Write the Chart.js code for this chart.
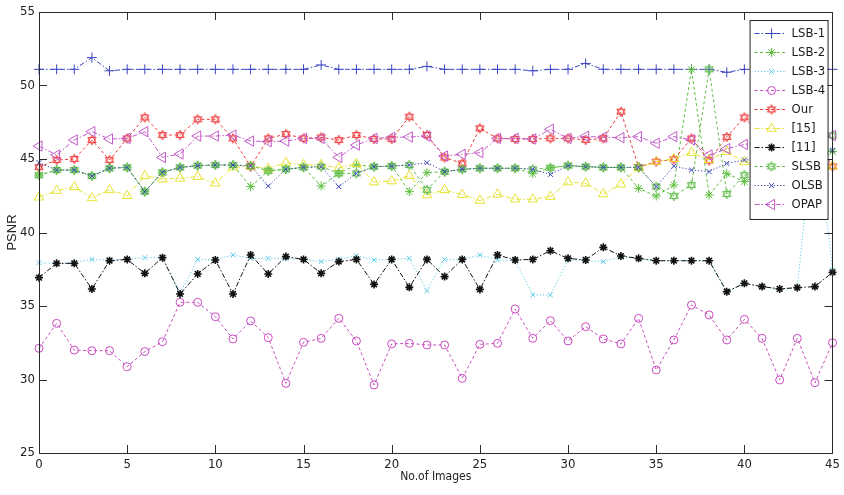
<!DOCTYPE html>
<html>
<head>
<meta charset="utf-8">
<script src="https://cdn.jsdelivr.net/npm/chart.js@4.4.1/dist/chart.umd.min.js"></script>
<style>
  html, body { margin: 0; padding: 0; background: #fff; }
</style>
</head>
<body>
<canvas id="chart" width="844" height="495"></canvas>
<script>
'use strict';

// x categories: image number
const images = [0, 1, 2, 3, 4, 5, 6, 7, 8, 9, 10, 11, 12, 13, 14, 15, 16, 17, 18, 19, 20, 21, 22,
    23, 24, 25, 26, 27, 28, 29, 30, 31, 32, 33, 34, 35, 36, 37, 38, 39, 40, 41, 42, 43, 44, 45];

const xTicks = [0, 5, 10, 15, 20, 25, 30, 35, 40, 45];
const yTicks = [25, 30, 35, 40, 45, 50, 55];

// PSNR per image
const lsb1 = [51.1, 51.1, 51.1, 51.9, 51.0, 51.1, 51.1, 51.1, 51.1, 51.1,
    51.1, 51.1, 51.1, 51.1, 51.1, 51.1, 51.4, 51.1, 51.1, 51.1,
    51.1, 51.1, 51.3, 51.1, 51.1, 51.1, 51.1, 51.1, 51.0, 51.1,
    51.1, 51.5, 51.1, 51.1, 51.1, 51.1, 51.1, 51.1, 51.1, 50.9,
    51.1, 51.1, 51.1, 51.1, 51.1, 51.1];
const lsb2 = [43.9, 44.25, 44.25, 43.84, 44.37, 44.43, 42.78, 44.09, 44.43, 44.55,
    44.59, 44.59, 43.12, 44.2, 44.3, 44.43, 43.16, 44.02, 44.6, 44.48,
    44.52, 42.78, 44.07, 44.14, 44.3, 44.37, 44.37, 44.37, 44.0, 44.4,
    44.55, 44.48, 44.43, 44.43, 43.0, 42.48, 43.23, 51.1, 42.55, 44.0,
    43.46, 44.0, 44.3, 44.8, 45.2, 45.5];
const lsb3 = [37.95, 37.9, 37.95, 38.17, 38.13, 38.17, 38.29, 38.29, 35.9, 38.17,
    38.17, 38.47, 38.24, 38.24, 38.24, 38.17, 38.02, 38.17, 38.42, 38.13,
    38.17, 38.24, 36.04, 38.17, 38.17, 38.47, 38.13, 38.08, 35.75, 35.75,
    38.17, 38.08, 38.02, 38.35, 38.24, 38.08, 38.08, 38.08, 38.08, 35.97,
    36.54, 36.32, 36.16, 36.25, 48.0, 37.45];
const lsb4 = [32.12, 33.82, 32.0, 31.96, 31.96, 30.87, 31.9, 32.57, 35.25, 35.25,
    34.27, 32.76, 33.98, 32.85, 29.74, 32.53, 32.8, 34.16, 32.62, 29.63,
    32.42, 32.46, 32.35, 32.35, 30.08, 32.39, 32.46, 34.8, 32.8, 34.0,
    32.62, 33.59, 32.76, 32.42, 34.16, 30.65, 32.69, 35.07, 34.39, 32.69,
    34.09, 32.8, 29.97, 32.8, 29.78, 32.5];
const our = [44.44, 44.93, 45.0, 46.29, 44.93, 46.4, 47.83, 46.63, 46.63, 47.7,
    47.7, 46.4, 44.48, 46.4, 46.7, 46.4, 46.47, 46.29, 46.63, 46.36,
    46.36, 47.88, 46.63, 45.1, 44.7, 47.09, 46.4, 46.36, 46.36, 46.4,
    46.4, 46.3, 46.4, 48.22, 44.45, 44.82, 44.98, 46.4, 44.9, 46.5,
    47.83, 46.5, 46.4, 46.6, 46.4, 44.5];
const ref15 = [42.4, 42.85, 43.1, 42.35, 42.9, 42.5, 43.85, 43.63, 43.69, 43.8,
    43.35, 44.45, 44.5, 44.35, 44.75, 44.6, 44.6, 44.4, 44.68, 43.43,
    43.5, 43.87, 42.55, 42.9, 42.58, 42.17, 42.6, 42.26, 42.26, 42.44,
    43.43, 43.35, 42.62, 43.28, 44.4, 44.82, 45.02, 45.43, 44.95, 45.5,
    44.8, 44.6, 44.8, 44.5, 44.7, 44.5];
const ref11 = [36.93, 37.9, 37.9, 36.16, 38.08, 38.17, 37.22, 38.29, 35.82, 37.18,
    38.13, 35.82, 38.47, 37.18, 38.36, 38.17, 37.22, 38.02, 38.17, 36.47,
    38.17, 36.27, 38.17, 37.0, 38.17, 36.13, 38.47, 38.13, 38.17, 38.76,
    38.24, 38.13, 38.99, 38.4, 38.24, 38.08, 38.08, 38.08, 38.08, 35.97,
    36.54, 36.32, 36.16, 36.25, 36.32, 37.29];
const slsb = [43.9, 44.25, 44.25, 43.84, 44.37, 44.43, 42.78, 44.09, 44.43, 44.55,
    44.59, 44.59, 44.53, 44.2, 44.3, 44.43, 44.48, 44.02, 44.02, 44.48,
    44.52, 44.59, 42.9, 44.14, 44.3, 44.37, 44.37, 44.37, 44.3, 44.4,
    44.55, 44.48, 44.43, 44.43, 44.43, 43.12, 42.48, 43.23, 51.1, 42.62,
    43.9, 44.0, 44.5, 45.0, 45.8, 46.6];
const olsb = [44.75, 44.25, 44.25, 43.84, 44.37, 44.43, 42.78, 44.09, 44.43, 44.55,
    44.59, 44.59, 44.53, 43.16, 44.3, 44.43, 44.48, 43.12, 44.02, 44.48,
    44.52, 44.59, 44.75, 44.14, 44.3, 44.37, 44.37, 44.37, 44.3, 43.95,
    44.55, 44.48, 44.43, 44.43, 44.43, 43.12, 44.52, 44.25, 44.14, 44.7,
    44.93, 45.0, 45.2, 45.3, 45.5, 45.6];
const opap = [45.88, 45.27, 46.29, 46.86, 46.36, 46.4, 46.86, 45.11, 45.34, 46.56,
    46.56, 46.63, 46.22, 46.18, 46.22, 46.4, 46.4, 45.11, 45.95, 46.4,
    46.47, 46.5, 46.56, 45.2, 45.32, 45.43, 46.4, 46.4, 46.36, 47.02,
    46.4, 46.55, 46.47, 46.45, 46.52, 46.07, 46.52, 46.3, 45.27, 45.7,
    45.99, 46.2, 46.4, 46.3, 46.5, 46.6];

const FONT = "'Liberation Sans Narrow', 'DejaVu Sans Condensed', 'Liberation Sans', sans-serif";

// hollow six-point star marker, like matlab 'h'
function hexagram(color) {
    const c = document.createElement('canvas');
    c.width = c.height = 12;
    const g = c.getContext('2d');
    g.strokeStyle = color;
    g.lineWidth = 1;
    [-Math.PI / 2, Math.PI / 2].forEach(off => {
        g.beginPath();
        for (let k = 0; k < 3; k++) {
            const t = off + k * 2 * Math.PI / 3;
            const px = 6 + 4.8 * Math.cos(t), py = 6 + 4.8 * Math.sin(t);
            if (k) g.lineTo(px, py); else g.moveTo(px, py);
        }
        g.closePath();
        g.stroke();
    });
    return c;
}

const DASH = [3, 2.5], DOT = [1.2, 2], DASHDOT = [5, 2, 1.5, 2];

const series = [
    { label: 'LSB-1', data: lsb1, color: '#3b47c2', marker: 'cross', dash: DASHDOT, r: 5 },
    { label: 'LSB-2', data: lsb2, color: '#5cbf3c', marker: 'star', dash: DASH, r: 4.5 },
    { label: 'LSB-3', data: lsb3, color: '#5fcbe6', marker: 'crossRot', dash: DOT, r: 3.5 },
    { label: 'LSB-4', data: lsb4, color: '#c94bc0', marker: 'circle', dash: DASH, r: 4 },
    { label: 'Our', data: our, color: '#ef3b3b', marker: hexagram('#ef3b3b'), dash: DASH, r: 5 },
    { label: '[15]', data: ref15, color: '#e6e233', marker: 'triangle', dash: DASHDOT, r: 5.5 },
    { label: '[11]', data: ref11, color: '#111111', marker: 'star', dash: DASHDOT, r: 4 },
    { label: 'SLSB', data: slsb, color: '#62bd4c', marker: hexagram('#62bd4c'), dash: DASH, r: 5 },
    { label: 'OLSB', data: olsb, color: '#3a44b8', marker: 'crossRot', dash: DOT, r: 3.5 },
    { label: 'OPAP', data: opap, color: '#c25bc8', marker: 'triangle', rot: -90, dash: DASHDOT, r: 6 }
];

const datasets = series.map((s, k) => ({
    label: s.label,
    data: images.map((img, i) => ({ x: img, y: s.data[i] })),
    borderColor: s.color,
    borderWidth: 1,
    borderDash: s.dash,
    pointStyle: s.marker,
    pointRotation: s.rot || 0,
    pointRadius: s.r,
    pointBorderColor: s.color,
    pointBorderWidth: s.label === '[11]' ? 1.6 : 1,
    pointBackgroundColor: 'rgba(0,0,0,0)',
    fill: false,
    tension: 0,
    clip: false,
    order: series.length - k
}));

// matlab style box, inward ticks and the legend inside the axes
const axesBox = {
    id: 'axesBox',
    afterDatasetsDraw(chart) {
        const { ctx, chartArea: a, scales: { x, y } } = chart;
        ctx.save();
        ctx.strokeStyle = '#2a2a2a';
        ctx.lineWidth = 1;
        ctx.setLineDash([]);
        ctx.strokeRect(Math.round(a.left) + 0.5, Math.round(a.top) + 0.5,
            Math.round(a.right - a.left) - 1, Math.round(a.bottom - a.top));
        ctx.beginPath();
        xTicks.slice(1, -1).forEach(v => {
            const px = Math.round(x.getPixelForValue(v)) + 0.5;
            ctx.moveTo(px, a.bottom); ctx.lineTo(px, a.bottom - 8);
            ctx.moveTo(px, a.top); ctx.lineTo(px, a.top + 8);
        });
        yTicks.slice(1, -1).forEach(v => {
            const py = Math.round(y.getPixelForValue(v)) + 0.5;
            ctx.moveTo(a.left, py); ctx.lineTo(a.left + 8, py);
            ctx.moveTo(a.right, py); ctx.lineTo(a.right - 8, py);
        });
        ctx.stroke();

        // legend
        const bx = a.right - 83, by = a.top + 8, bw = 78, bh = 199;
        ctx.fillStyle = '#fff';
        ctx.fillRect(bx, by, bw, bh);
        ctx.strokeStyle = '#222';
        ctx.strokeRect(bx + 0.5, by + 0.5, bw, bh);
        ctx.font = "13px " + FONT;
        ctx.textBaseline = 'middle';
        chart.data.datasets.forEach((ds, k) => {
            const ly = Math.round(by + 13.3 + k * 18.97) + 0.5;
            ctx.strokeStyle = ds.borderColor;
            ctx.lineWidth = 1;
            ctx.setLineDash(ds.borderDash);
            ctx.beginPath();
            ctx.moveTo(bx + 5, ly);
            ctx.lineTo(bx + 36, ly);
            ctx.stroke();
            ctx.setLineDash([]);
            ctx.fillStyle = 'rgba(0,0,0,0)';
            ctx.lineWidth = ds.pointBorderWidth;
            Chart.helpers.drawPoint(ctx, {
                pointStyle: ds.pointStyle,
                rotation: ds.pointRotation,
                radius: ds.pointRadius,
                borderWidth: ds.pointBorderWidth
            }, bx + 22, ly);
            ctx.fillStyle = '#1a1a1a';
            ctx.fillText(ds.label, bx + 42, ly + 0.5);
        });
        ctx.restore();
    }
};

new Chart(document.getElementById('chart'), {
    type: 'line',
    data: { datasets },
    plugins: [axesBox],
    options: {
        responsive: false,
        animation: false,
        devicePixelRatio: 1,
        layout: { padding: { top: 12, right: 6, left: 0, bottom: 0 } },
        plugins: { legend: { display: false }, tooltip: { enabled: false } },
        scales: {
            x: {
                type: 'linear',
                min: 0,
                max: 45,
                afterFit(s) { s.height = 42; },
                afterBuildTicks(s) { s.ticks = xTicks.map(v => ({ value: v })); },
                ticks: { font: { family: FONT, size: 13 }, color: '#222', padding: 4, maxRotation: 0 },
                grid: { display: false, drawTicks: false },
                border: { display: false },
                title: { display: true, text: 'No.of Images', color: '#222',
                    font: { family: FONT, size: 12 }, padding: { top: 0, bottom: 11 } }
            },
            y: {
                min: 25,
                max: 55,
                afterFit(s) { s.width = 39; },
                afterBuildTicks(s) { s.ticks = yTicks.map(v => ({ value: v })); },
                ticks: { font: { family: FONT, size: 13 }, color: '#222', padding: 4 },
                grid: { display: false, drawTicks: false },
                border: { display: false },
                title: { display: true, text: 'PSNR', color: '#222',
                    font: { family: "'Liberation Sans', sans-serif", size: 13 }, padding: { top: 5, bottom: 4 } }
            }
        }
    }
});
</script>
</body>
</html>
